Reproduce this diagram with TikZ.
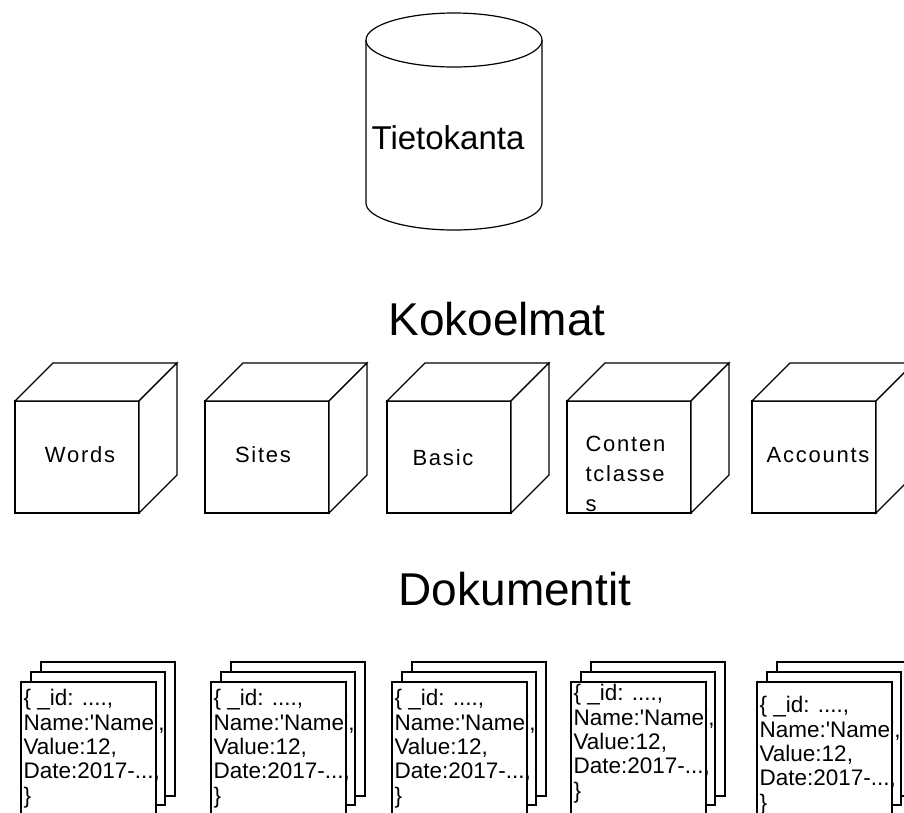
\documentclass[tikz,border=0pt]{standalone}
\usepackage{fontspec}
\setmainfont{Liberation Sans}
\begin{document}
\begin{tikzpicture}[x=1pt,y=-1pt,line width=1.2pt,
  outlined/.style={draw=black,fill=white},
  title/.style={anchor=base,inner sep=0pt,font=\fontsize{46}{54}\selectfont},
  cubelabel/.style={inner sep=0pt,font=\fontsize{22}{30}\selectfont\addfontfeature{LetterSpace=8}},
  doctext/.style={anchor=north west,inner sep=0pt,align=left,font=\fontsize{22.5}{24.3}\selectfont},
  cube/.pic={
    \draw[outlined] (0,0) rectangle (124,112);
    \draw[outlined] (0,0) -- (38,-38) -- (162,-38) -- (124,0) -- cycle;
    \draw[outlined] (124,0) -- (162,-38) -- (162,74) -- (124,112) -- cycle;
  },
  docstack/.pic={
    \draw[outlined] (20,-20) rectangle +(134,134);
    \draw[outlined] (10,-10) rectangle +(134,133);
    \draw[outlined] (0,0) rectangle (135,140);
  }]
\clip (0,0) rectangle (904,812);

% database cylinder
\draw[outlined] (366,40) -- (366,203) arc[start angle=180,end angle=0,x radius=88,y radius=27] -- (542,40);
\draw[outlined] (454,40) ellipse [x radius=88,y radius=27];
\node[anchor=base,inner sep=0pt,font=\fontsize{33}{40}\selectfont] (db) at (448,149) {Tietokanta};

% collections
\node[title] (coll) at (497,335) {Kokoelmat};
\pic at (15,401) {cube};
\pic at (205,401) {cube};
\pic at (387,401) {cube};
\pic at (567,401) {cube};
\pic at (752,401) {cube};
\node[cubelabel,anchor=base] (words) at (80,462) {Words};
\node[cubelabel,anchor=base] (sites) at (263,462) {Sites};
\node[cubelabel,anchor=base] (basic) at (443,465) {Basic};
\node[cubelabel,anchor=north west,align=left] (content) at (585,436) {Conten\\tclasse\\s};
\node[cubelabel,anchor=base west] (accounts) at (766,462) {Accounts};

% documents
\node[title] (docs) at (515,605) {Dokumentit};
\pic at (21,682) {docstack};
\pic at (211,682) {docstack};
\pic at (392,682) {docstack};
\pic at (571,682) {docstack};
\pic at (757,682) {docstack};
\newcommand\docbody{\{ \_id: ....,\\Name:\textquotesingle Name\textquotesingle,\\Value:12,\\Date:2017-...,\\\}}
\node[doctext] (d1) at (23,689) {\docbody};
\node[doctext] (d2) at (213,689) {\docbody};
\node[doctext] (d3) at (394,689) {\docbody};
\node[doctext] (d4) at (573,684) {\docbody};
\node[doctext] (d5) at (759,696) {\docbody};
\end{tikzpicture}
\end{document}
